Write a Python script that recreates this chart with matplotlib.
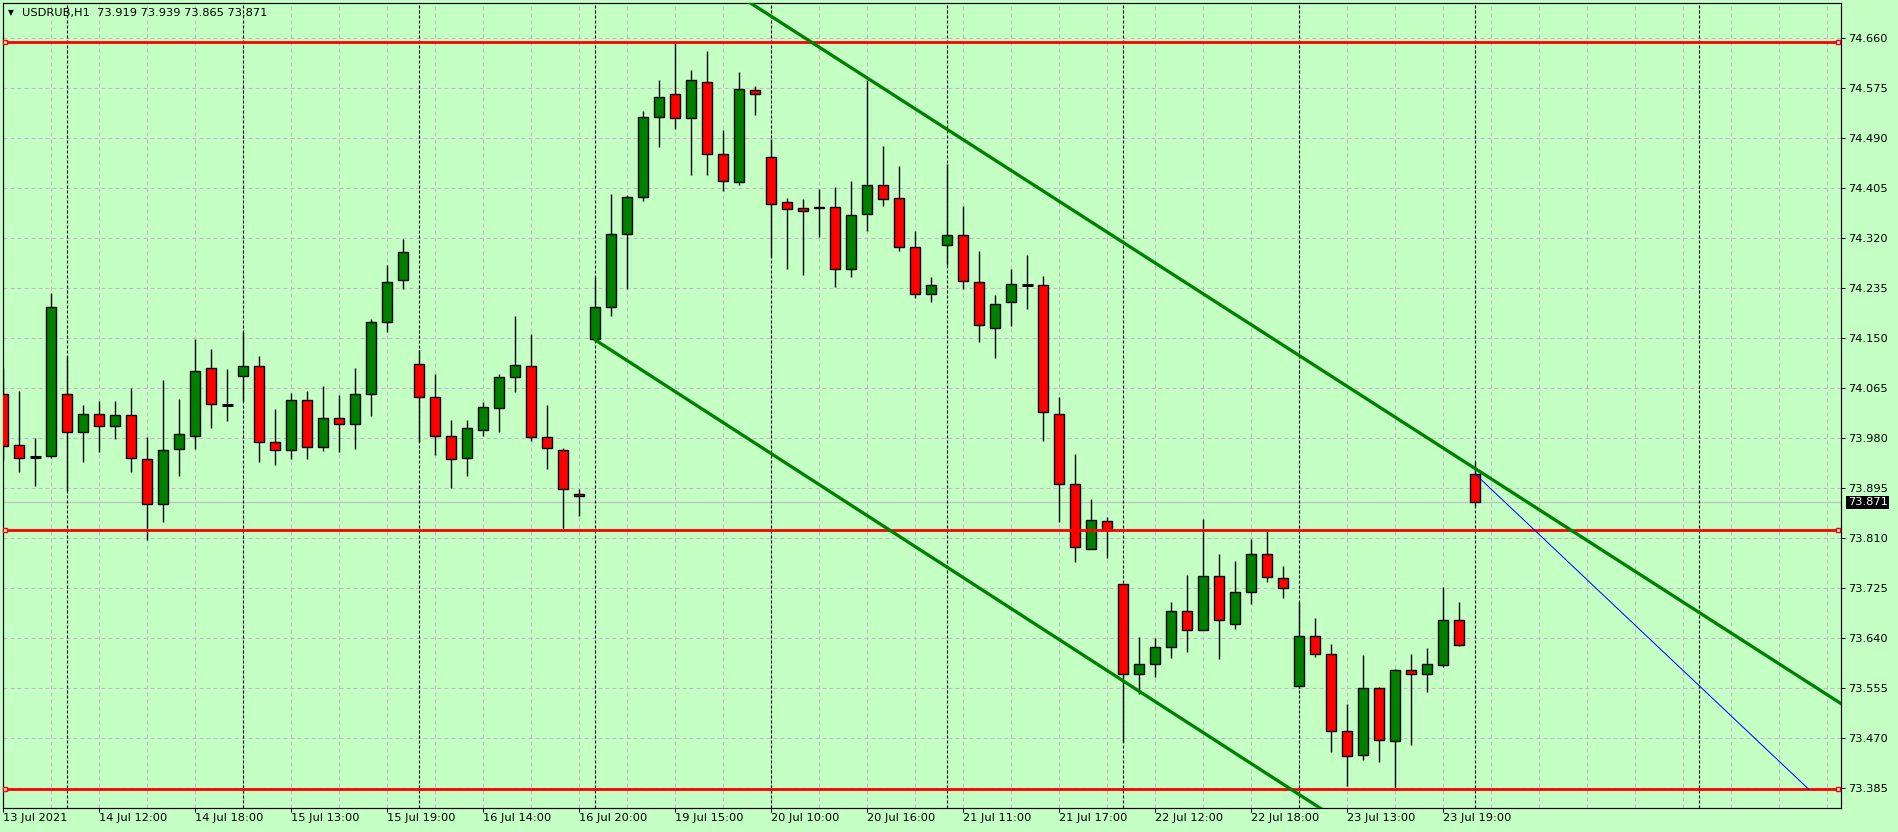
import matplotlib
matplotlib.use("Agg")
import matplotlib.pyplot as plt

plt.rcParams["font.family"] = ["DejaVu Sans"]
plt.rcParams["lines.scale_dashes"] = False

# hourly bars, USDRUB H1
opens = [74.055, 73.968, 73.948, 73.949, 74.056, 73.990, 74.022, 74.000, 74.019, 73.944,
         73.868, 73.961, 73.983, 74.099, 74.037, 74.085, 74.102, 73.973, 73.960, 74.045,
         73.965, 74.014, 74.005, 74.056, 74.177, 74.249, 74.107, 74.050, 73.983, 73.946,
         73.994, 74.031, 74.084, 74.102, 73.982, 73.960, 73.885, 74.148, 74.203, 74.328,
         74.390, 74.527, 74.566, 74.525, 74.585, 74.464, 74.415, 74.572, 74.459, 74.381,
         74.371, 74.371, 74.374, 74.267, 74.361, 74.410, 74.388, 74.306, 74.225, 74.308,
         74.325, 74.245, 74.167, 74.211, 74.241, 74.240, 74.021, 73.903, 73.791, 73.839,
         73.733, 73.580, 73.597, 73.625, 73.686, 73.654, 73.745, 73.665, 73.718, 73.784,
         73.742, 73.558, 73.643, 73.613, 73.482, 73.441, 73.555, 73.465, 73.586, 73.579,
         73.594, 73.671, 73.919]
highs = [74.100, 74.060, 73.981, 74.227, 74.120, 74.037, 74.043, 74.043, 74.066, 73.982,
         74.079, 74.047, 74.149, 74.132, 74.098, 74.160, 74.120, 74.030, 74.057, 74.060,
         74.069, 74.054, 74.100, 74.183, 74.275, 74.318, 74.130, 74.089, 74.011, 74.011,
         74.041, 74.089, 74.188, 74.157, 74.037, 73.963, 73.893, 74.254, 74.395, 74.393,
         74.536, 74.589, 74.652, 74.606, 74.638, 74.504, 74.602, 74.579, 74.488, 74.388,
         74.386, 74.404, 74.407, 74.417, 74.589, 74.477, 74.443, 74.332, 74.254, 74.446,
         74.375, 74.298, 74.224, 74.268, 74.292, 74.256, 74.050, 73.954, 73.876, 73.846,
         73.733, 73.642, 73.640, 73.701, 73.747, 73.843, 73.784, 73.771, 73.808, 73.822,
         73.762, 73.701, 73.674, 73.631, 73.528, 73.611, 73.557, 73.587, 73.613, 73.623,
         73.727, 73.701, 73.939]
lows = [73.943, 73.922, 73.899, 73.946, 73.891, 73.939, 73.957, 73.979, 73.922, 73.807,
        73.838, 73.916, 73.962, 73.998, 74.010, 74.044, 73.940, 73.935, 73.945, 73.944,
        73.959, 73.956, 73.961, 74.018, 74.160, 74.234, 73.973, 73.952, 73.896, 73.916,
        73.983, 73.991, 74.059, 73.976, 73.928, 73.822, 73.848, 74.147, 74.188, 74.233,
        74.384, 74.476, 74.505, 74.428, 74.427, 74.401, 74.411, 74.530, 74.289, 74.267,
        74.258, 74.322, 74.238, 74.255, 74.332, 74.375, 74.299, 74.219, 74.211, 74.274,
        74.234, 74.144, 74.117, 74.171, 74.199, 73.976, 73.838, 73.769, 73.791, 73.777,
        73.463, 73.545, 73.574, 73.607, 73.617, 73.654, 73.604, 73.655, 73.699, 73.735,
        73.709, 73.555, 73.608, 73.447, 73.388, 73.433, 73.429, 73.386, 73.459, 73.548,
        73.591, 73.626, 73.865]
closes = [73.967, 73.947, 73.948, 74.204, 73.991, 74.022, 74.001, 74.019, 73.947, 73.868,
          73.960, 73.988, 74.094, 74.039, 74.037, 74.102, 73.973, 73.960, 74.045, 73.965,
          74.014, 74.005, 74.056, 74.177, 74.245, 74.296, 74.050, 73.983, 73.944, 73.997,
          74.033, 74.084, 74.104, 73.982, 73.963, 73.893, 73.881, 74.203, 74.327, 74.390,
          74.527, 74.561, 74.525, 74.589, 74.464, 74.417, 74.573, 74.566, 74.379, 74.369,
          74.366, 74.374, 74.267, 74.359, 74.410, 74.386, 74.306, 74.225, 74.240, 74.325,
          74.247, 74.172, 74.209, 74.243, 74.241, 74.024, 73.902, 73.795, 73.841, 73.824,
          73.579, 73.597, 73.625, 73.686, 73.654, 73.745, 73.671, 73.718, 73.784, 73.744,
          73.725, 73.643, 73.614, 73.482, 73.439, 73.555, 73.467, 73.586, 73.579, 73.596,
          73.671, 73.628, 73.871]

x_label_bars = [0, 6, 12, 18, 24, 30, 36, 42, 48, 54, 60, 66, 72, 78, 84, 90]
x_labels = ["13 Jul 2021", "14 Jul 12:00", "14 Jul 18:00", "15 Jul 13:00", "15 Jul 19:00",
            "16 Jul 14:00", "16 Jul 20:00", "19 Jul 15:00", "20 Jul 10:00", "20 Jul 16:00",
            "21 Jul 11:00", "21 Jul 17:00", "22 Jul 12:00", "22 Jul 18:00", "23 Jul 13:00",
            "23 Jul 19:00"]
separator_bars = [4, 15, 26, 37, 48, 59, 70, 81, 92, 106]
price_ticks = [74.660, 74.575, 74.490, 74.405, 74.320, 74.235, 74.150, 74.065,
               73.980, 73.895, 73.810, 73.725, 73.640, 73.555, 73.470, 73.385]
levels = [74.653, 73.824, 73.383]
upper_line = ([40, 120], [74.837, 73.439])
lower_line = ([37, 90], [74.147, 73.216])
blue_line = ([92, 112.85], [73.919, 73.383])
last_price = 73.871
header = "USDRUB,H1  73.919 73.939 73.865 73.871"

bg = "#c4ffc4"
W, H = 1898, 832
px = 0.72  # one pixel in points

fig = plt.figure(figsize=(W / 100, H / 100), dpi=100, facecolor=bg)
ax = fig.add_axes([2.7 / W, (H - 807.7) / H, (1841.3 - 2.7) / W, (807.7 - 2.7) / H])
ax.set_facecolor(bg)
ax.set_xlim(-0.04, 114.875)
ax.set_ylim(73.3519, 74.7205)

# grid
ax.set_axisbelow(True)
ax.set_xticks(x_label_bars, x_labels)
ax.set_xticks(range(0, 115, 3), minor=True)
ax.set_yticks(price_ticks, [f"{p:.3f}" for p in price_ticks])
grid_kw = dict(color="#c6b8c6", linewidth=px * 1.1, linestyle=(0, (4 * px, 3 * px)))
ax.grid(True, which="major", **grid_kw)
ax.grid(True, which="minor", axis="x", **grid_kw)

# day separators
for b in separator_bars:
    ax.axvline(b, color="black", linewidth=px * 1.1, linestyle=(0, (3 * px, 2 * px)), zorder=1.5)

# bid line
ax.axhline(last_price, color="#c0c0c0", linewidth=px * 1.2, zorder=1.2)

# candles
idx = list(range(len(opens)))
ax.vlines(idx, lows, highs, color="black", linewidth=1.0, zorder=2)
body_i, body_b, body_h, body_c = [], [], [], []
doji_i, doji_y = [], []
for i, (o, c) in enumerate(zip(opens, closes)):
    if o == c:
        doji_i.append(i)
        doji_y.append(o)
        continue
    body_i.append(i)
    body_b.append(min(o, c))
    body_h.append(abs(c - o))
    body_c.append("#008000" if c > o else "#ff0000")
ax.bar(body_i, body_h, width=0.62, bottom=body_b, color=body_c,
       edgecolor="black", linewidth=1.0, zorder=3)
ax.hlines(doji_y, [i - 0.33 for i in doji_i], [i + 0.33 for i in doji_i],
          color="black", linewidth=2.2, zorder=3)

# objects
for lv in levels:
    ax.axhline(lv, color="#ff0000", linewidth=2 * px * 1.4, zorder=4)
    ax.plot([0.1, 114.67], [lv, lv], linestyle="none", marker="s", markersize=5 * px,
            markerfacecolor="white", markeredgecolor="#ff0000", markeredgewidth=1.4 * px,
            zorder=5, clip_on=False)
ax.plot(*upper_line, color="#008000", linewidth=3 * px * 1.1, zorder=4)
ax.plot(*lower_line, color="#008000", linewidth=3 * px * 1.1, zorder=4)
ax.plot(*blue_line, color="#0000ff", linewidth=px, zorder=4)

# axes cosmetics
for s in ax.spines.values():
    s.set_color("black")
    s.set_linewidth(px * 1.2)
ax.yaxis.tick_right()
ax.tick_params(axis="y", which="major", length=3, width=px, pad=1.6,
               labelsize=8.2, colors="black")
ax.tick_params(axis="x", which="major", length=3, width=px, pad=1.0,
               labelsize=8.2, colors="black")
ax.tick_params(axis="x", which="minor", length=0)
for lab in ax.get_xticklabels():
    lab.set_horizontalalignment("left")

# current price tag
ax.annotate(f"{last_price:.3f}", xy=(1.0, last_price), xycoords=("axes fraction", "data"),
            xytext=(4.6, 0), textcoords="offset points", va="center", ha="left",
            fontsize=8.2, color="white",
            bbox=dict(boxstyle="square,pad=0.12", fc="black", ec="none"),
            annotation_clip=False)

# header
fig.text(11 / W, 1 - 12.3 / H, "\u25bc", fontsize=5.5, ha="center", va="center")
fig.text(21.7 / W, 1 - 12.7 / H, header, fontsize=8.2, ha="left", va="center")

fig.savefig("out.png", dpi=100, facecolor=bg)
